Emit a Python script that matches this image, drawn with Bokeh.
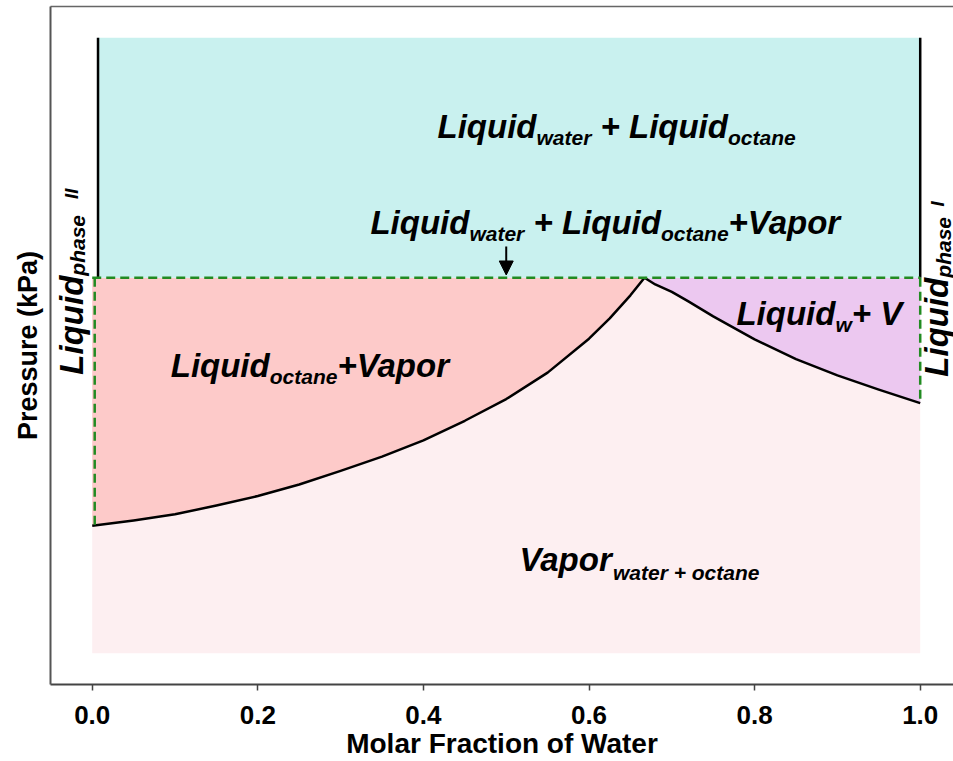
import math
from bokeh.plotting import figure
from bokeh.models import Range1d, FixedTicker, Arrow, NormalHead, LinearAxis
from bokeh.core.properties import value
from bokeh.embed import file_html
from bokeh.resources import INLINE

# ---------------- data ----------------
x_ticks = [0.0, 0.2, 0.4, 0.6, 0.8, 1.0]
tick_labels = ["0.0", "0.2", "0.4", "0.6", "0.8", "1.0"]

P_TOP = 95.4     # upper end of liquid-liquid region
P_3PH = 60.0     # three-phase pressure
P_MIN = 4.6      # lowest pressure drawn

x_oct_dew = [0.0, 0.05, 0.1, 0.15, 0.2, 0.25, 0.3, 0.35, 0.4, 0.45, 0.5,
             0.55, 0.6, 0.625, 0.65, 0.667]
p_oct_dew = [23.4, 24.2, 25.1, 26.4, 27.8, 29.5, 31.5, 33.6, 36.0, 38.9, 42.1,
             46.0, 51.0, 54.0, 57.4, 60.0]

x_wat_dew = [0.667, 0.68, 0.70, 0.72, 0.75, 0.80, 0.85, 0.90, 0.95, 1.0]
p_wat_dew = [60.0, 59.0, 57.9, 56.5, 54.3, 50.9, 48.0, 45.6, 43.5, 41.5]

x_liq_II = 0.007   # octane-rich liquid boundary (solid)
x_liq_II_d = 0.003 # dashed boundary
x_liq_I = 1.0

label_top = ["Liquid", "water", " + ", "Liquid", "octane"]
label_3ph = ["Liquid", "water", " + ", "Liquid", "octane", "+Vapor"]
label_oct = ["Liquid", "octane", "+Vapor"]
label_wat = ["Liquid", "w", "+ V"]
label_vap = ["Vapor", "water + octane"]
label_ph2 = ["Liquid", "phase", "   II"]
label_ph1 = ["Liquid", "phase", "  I"]

# ---------------- styling helpers ----------------
FONT = "Liberation Sans"
M, S, SUP = 33, 21, 19
CW = {' ': 278, '+': 584, 'L': 611, 'i': 278, 'q': 611, 'u': 611, 'd': 611,
      'w': 778, 'a': 556, 't': 333, 'e': 556, 'r': 389, 'o': 611, 'c': 556,
      'n': 611, 'V': 667, 'p': 611, 'h': 611, 's': 556, 'I': 278}
BASE_CORR = 0.3465  # observed baseline placement correction (fraction of size)


def tw(s, size):
    return sum(CW[c] for c in s) * size / 1000.0


p = figure(width=953, height=761, output_backend="svg", toolbar_location=None,
           x_range=Range1d(-0.0504, 1.0402), y_range=Range1d(0, 100),
           min_border_left=50, min_border_right=0, min_border_top=6,
           min_border_bottom=75)
p.background_fill_color = "white"
p.border_fill_color = "white"
p.grid.visible = False
p.outline_line_color = None


def draw_label(x, y, parts, sizes, shifts, angle=0.0):
    cur = 0.0
    for txt, size, sh in zip(parts, sizes, shifts):
        lead = len(txt) - len(txt.lstrip(' '))
        trail = len(txt) - len(txt.rstrip(' '))
        cur += lead * CW[' '] * size / 1000.0
        t = txt.strip(' ')
        d = sh - BASE_CORR * size
        if angle == 0:
            xo, yo = cur, d
        else:
            xo, yo = d, -cur
        p.text(x=[x], y=[y], text=[t], x_offset=xo, y_offset=yo, angle=angle,
               text_font=value(FONT), text_font_style="bold italic",
               text_font_size=f"{size}px", text_color="black",
               text_align="left", text_baseline="alphabetic")
        cur += tw(t, size) + trail * CW[' '] * size / 1000.0


# ---------------- regions ----------------
p.quad(left=[0.0], right=[1.0], bottom=[P_MIN], top=[P_3PH],
       fill_color="#fdeff1", line_color=None)
p.patch(x=[0.0] + x_oct_dew, y=[P_3PH] + p_oct_dew,
        fill_color="#fdcac9", line_color=None)
p.patch(x=x_wat_dew + [1.0], y=p_wat_dew + [P_3PH],
        fill_color="#ecc8f0", line_color=None)
p.quad(left=[x_liq_II], right=[x_liq_I], bottom=[P_3PH], top=[P_TOP],
       fill_color="#c9f1ef", line_color=None)

# ---------------- lines ----------------
p.line(x_oct_dew, p_oct_dew, line_color="black", line_width=2.5, line_join="round")
p.line(x_wat_dew, p_wat_dew, line_color="black", line_width=2.5, line_join="round")
p.line([x_liq_II, x_liq_II], [P_3PH, P_TOP], line_color="black", line_width=2.5)
p.line([x_liq_I, x_liq_I], [P_3PH, P_TOP], line_color="black", line_width=2.5)

GREEN = "#228b22"
p.line([0.0, 1.0], [P_3PH, P_3PH], line_color=GREEN, line_width=2.5, line_dash="9 5")
p.line([x_liq_II_d, x_liq_II_d], [P_3PH, p_oct_dew[0]], line_color=GREEN,
       line_width=2.5, line_dash="9 5")
p.line([x_liq_I, x_liq_I], [P_3PH, p_wat_dew[-1]], line_color=GREEN,
       line_width=2.5, line_dash="9 5")

p.add_layout(Arrow(end=NormalHead(size=14, fill_color="black", line_color="black"),
                   x_start=0.5, y_start=64.6, x_end=0.5, y_end=60.4,
                   line_color="black", line_width=2))

# ---------------- labels ----------------
draw_label(0.417, 80.6, label_top, [M, S, M, M, S], [0, 7, 0, 0, 7])
draw_label(0.336, 66.5, label_3ph, [M, S, M, M, S, M], [0, 7, 0, 0, 7, 0])
draw_label(0.0948, 45.4, label_oct, [M, S, M], [0, 7, 0])
draw_label(0.778, 53.1, label_wat, [M, S, M], [0, 7, 0])
draw_label(0.516, 16.8, label_vap, [M, S], [0, 9])
draw_label(-0.0117, 45.7, label_ph2, [M, S, SUP], [0, 2, -4], angle=math.pi / 2)
draw_label(1.034, 45.4, label_ph1, [M, S, SUP], [0, 2, -4], angle=math.pi / 2)

# ---------------- axes ----------------
xa = p.xaxis[0]
xa.ticker = FixedTicker(ticks=x_ticks)
xa.major_label_overrides = {t: l for t, l in zip(x_ticks, tick_labels)}
xa.axis_label = "Molar Fraction of Water"
xa.axis_label_text_font = FONT
xa.axis_label_text_font_style = "bold"
xa.axis_label_text_font_size = "28px"
xa.axis_label_text_color = "black"
xa.axis_label_standoff = 1
xa.major_label_text_font = FONT
xa.major_label_text_font_style = "bold"
xa.major_label_text_font_size = "26px"
xa.major_label_text_color = "black"
xa.major_label_standoff = 15
xa.axis_line_color = "#444444"
xa.axis_line_width = 2
xa.major_tick_line_color = "#444444"
xa.major_tick_line_width = 1.5
xa.major_tick_in = 0
xa.major_tick_out = 6
xa.minor_tick_line_color = None

ya = p.yaxis[0]
ya.ticker = FixedTicker(ticks=[])
ya.axis_label = "Pressure (kPa)"
ya.axis_label_text_font = FONT
ya.axis_label_text_font_style = "bold"
ya.axis_label_text_font_size = "27px"
ya.axis_label_text_color = "black"
ya.axis_label_standoff = 8
ya.major_label_text_font_size = "0px"
ya.major_label_standoff = 0
ya.major_tick_in = 0
ya.major_tick_out = 0
ya.minor_tick_line_color = None
ya.axis_line_color = "#555555"
ya.axis_line_width = 2

top = LinearAxis(ticker=FixedTicker(ticks=[]), major_label_text_font_size="0px",
                 major_label_standoff=0, major_tick_in=0, major_tick_out=0,
                 minor_tick_line_color=None, axis_line_color="#666666",
                 axis_line_width=1.5)
p.add_layout(top, "above")

open("out.html", "w").write(file_html(p, INLINE))
